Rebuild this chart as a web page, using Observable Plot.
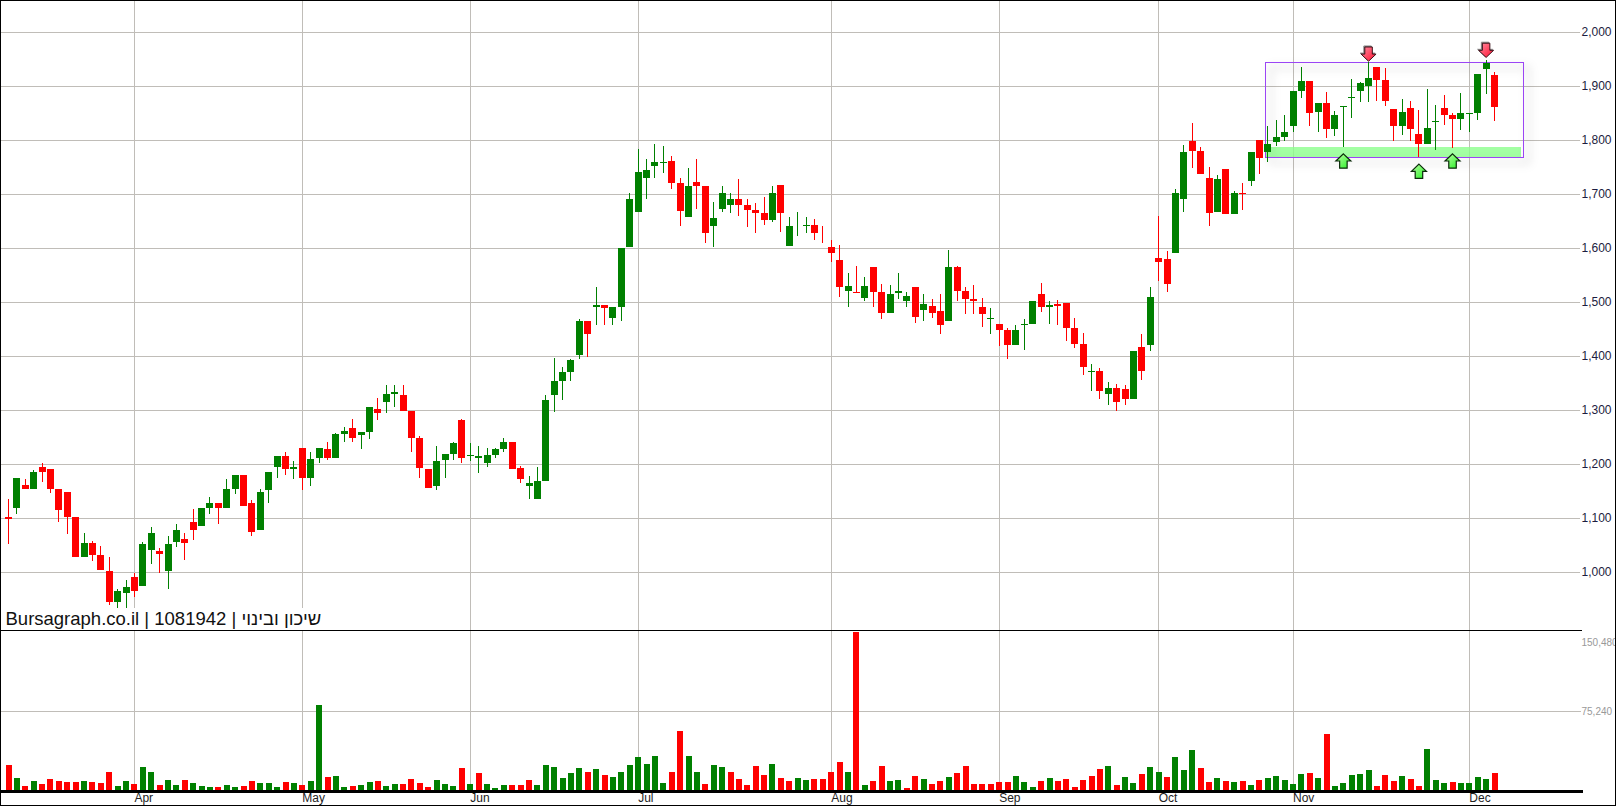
<!DOCTYPE html>
<html>
<head>
<meta charset="utf-8">
<script src="https://cdn.jsdelivr.net/npm/d3@7"></script>
<script src="https://cdn.jsdelivr.net/npm/@observablehq/plot@0.6"></script>
<style>
html,body{margin:0;padding:0;background:#fff}
#chart{position:relative;width:1616px;height:806px;overflow:hidden;font-family:"Liberation Sans",Arial,sans-serif}
#chart svg{position:absolute;left:0;display:block;background:transparent}
#border{position:absolute;left:0;top:0;width:1616px;height:806px;box-sizing:border-box;border:1px solid #000;pointer-events:none}
#title{position:absolute;left:1px;top:608px;width:325px;height:22px;background:#fff;color:#111;font-size:18.5px;line-height:22px;padding-left:4.5px;box-sizing:border-box;white-space:nowrap}
</style>
</head>
<body>
<div id="chart"><div id="title">Bursagraph.co.il | 1081942 | שיכון ובינוי</div><div id="border"></div></div>
<script>
const opens=[1101,1119,1162,1154,1195,1190,1154,1149,1102,1027,1054,1032,1001,945,962,990,975,1041,1038,1002,1056,1062,1093,1086,1119,1127,1119,1154,1180,1127,1078,1152,1195,1214,1191,1230,1175,1212,1228,1212,1256,1267,1254,1260,1301,1315,1330,1327,1299,1249,1190,1160,1208,1219,1282,1214,1212,1202,1217,1228,1241,1193,1160,1136,1169,1328,1354,1371,1401,1465,1491,1495,1471,1491,1601,1667,1730,1751,1758,1762,1721,1658,1723,1715,1641,1673,1680,1691,1680,1671,1664,1652,1717,1604,1640,1641,1643,1628,1602,1577,1521,1519,1508,1565,1519,1480,1517,1502,1527,1486,1493,1484,1465,1565,1521,1506,1491,1469,1460,1449,1421,1458,1460,1514,1491,1497,1499,1452,1423,1371,1373,1330,1340,1338,1321,1417,1421,1582,1580,1590,1691,1798,1780,1730,1667,1746,1663,1702,1724,1800,1778,1796,1806,1826,1891,1909,1852,1869,1820,1861,1878,1891,1900,1935,1911,1857,1826,1859,1811,1793,1833,1859,1846,1839,1848,1850,1931,1920];
const highs=[1136,1175,1173,1188,1202,1190,1154,1149,1102,1073,1058,1049,1028,969,986,999,1056,1084,1045,1067,1088,1073,1117,1119,1138,1127,1173,1180,1180,1134,1154,1186,1215,1223,1206,1230,1223,1230,1241,1258,1269,1284,1260,1306,1323,1347,1347,1347,1299,1252,1190,1234,1219,1241,1284,1238,1234,1230,1230,1249,1241,1197,1178,1195,1328,1397,1380,1395,1469,1465,1527,1495,1491,1600,1702,1784,1765,1793,1788,1771,1730,1749,1765,1715,1686,1715,1702,1728,1690,1684,1695,1714,1717,1658,1667,1658,1654,1640,1614,1606,1554,1567,1547,1565,1534,1532,1554,1519,1527,1514,1506,1515,1597,1567,1528,1532,1508,1488,1460,1451,1458,1469,1501,1536,1501,1504,1499,1471,1443,1386,1378,1351,1349,1347,1410,1440,1527,1660,1595,1710,1790,1831,1787,1750,1735,1746,1706,1720,1778,1800,1826,1837,1846,1891,1935,1909,1869,1889,1854,1863,1913,1907,1944,1935,1933,1857,1876,1872,1856,1894,1865,1883,1850,1887,1850,1922,1948,1926];
const lows=[1051,1108,1154,1154,1167,1147,1093,1071,1027,1027,1021,1004,938,930,930,954,975,1015,999,969,1047,1023,1060,1086,1108,1088,1119,1145,1123,1067,1078,1128,1175,1180,1173,1152,1160,1202,1208,1212,1241,1241,1227,1247,1282,1295,1306,1299,1223,1175,1156,1152,1175,1208,1201,1206,1184,1195,1212,1223,1190,1165,1136,1136,1169,1297,1319,1354,1395,1399,1458,1458,1458,1465,1601,1667,1690,1730,1738,1710,1641,1658,1673,1610,1601,1667,1665,1660,1638,1628,1643,1649,1630,1604,1623,1628,1615,1610,1575,1510,1490,1517,1502,1490,1469,1480,1506,1490,1462,1465,1471,1441,1465,1501,1478,1478,1454,1440,1419,1395,1421,1412,1460,1482,1460,1458,1427,1414,1365,1336,1321,1310,1299,1310,1321,1356,1410,1538,1519,1590,1667,1748,1737,1641,1667,1663,1663,1670,1715,1737,1759,1789,1798,1815,1878,1826,1815,1804,1807,1787,1841,1870,1870,1872,1863,1798,1809,1798,1769,1793,1781,1828,1785,1819,1815,1837,1885,1835];
const closes=[1099,1175,1154,1186,1186,1154,1114,1102,1027,1054,1032,1004,945,964,973,965,1051,1073,1034,1052,1078,1054,1077,1119,1127,1119,1154,1180,1123,1075,1149,1186,1215,1191,1194,1175,1210,1230,1212,1256,1262,1249,1260,1306,1295,1330,1334,1299,1249,1193,1156,1206,1219,1238,1212,1217,1215,1217,1228,1241,1190,1173,1165,1169,1319,1354,1371,1393,1465,1441,1495,1488,1491,1600,1691,1741,1745,1760,1760,1721,1669,1715,1715,1627,1656,1701,1691,1680,1671,1664,1652,1701,1665,1640,1641,1643,1628,1627,1591,1528,1530,1517,1530,1519,1480,1514,1521,1512,1473,1497,1480,1458,1565,1521,1506,1502,1477,1471,1449,1421,1449,1460,1501,1491,1495,1493,1452,1423,1380,1373,1336,1340,1315,1321,1410,1373,1510,1575,1534,1701,1777,1780,1737,1665,1728,1663,1702,1700,1778,1767,1793,1806,1815,1891,1909,1850,1869,1820,1846,1863,1880,1906,1915,1911,1872,1826,1852,1820,1793,1822,1835,1846,1839,1850,1850,1922,1943,1861];
const volumes=[24100,11700,4100,8900,6000,10800,8900,7900,7900,8900,7900,7000,17500,4100,8900,6000,22200,17500,5100,9800,5100,9800,7000,4100,3200,3200,5100,3200,4100,8900,7000,7000,3200,7900,7000,5100,8900,81300,12700,13700,3200,4100,5100,7900,8900,4100,6000,6000,10800,7000,3200,9800,6000,4100,21300,6000,16500,6000,2200,5100,5100,5100,9800,5100,24100,22200,11700,16500,21300,17500,20300,14600,12700,17500,24100,31800,25100,32700,7000,17500,56500,32700,17500,6000,24100,22200,17500,10800,5100,23200,14600,25100,11700,8900,11700,9800,10800,10800,17500,27000,17500,150480,5100,8900,23200,8900,9800,2200,13700,10800,6000,8900,12700,16500,23200,6000,6000,6000,7900,7900,13700,7900,3200,8900,11700,8900,10800,3200,9800,13700,20300,23200,5100,12700,7000,15600,22200,17500,12700,31800,19400,38400,21300,7900,11700,8900,7900,8900,5100,9800,11700,13700,9800,6000,15600,16500,11700,53700,4100,7000,14600,15600,19400,4100,14600,8900,13700,10800,4100,39400,9800,7000,7900,7000,7000,12700,10800,16500];
const volumeSides="rgrgrrrrrg rrrggrggrg grgggrggrr gggrgrggrg grggrggrrr rgggrgrggg rrrggggggr grgggggggr rggrggrrrr rgrrggrrrr grgrrggrrg rrgrrrrrrr gggrgrrrrr rgrggrggrg ggrrgrgrgr gggggrgrgg gggrrrgrrg ggrggggr".replace(/ /g,"").split("");
const priceTicks=[1000,1100,1200,1300,1400,1500,1600,1700,1800,1900,2000];
const monthLabels=["Apr","May","Jun","Jul","Aug","Sep","Oct","Nov","Dec"];
const monthIndex=[15,35,55,75,98,118,137,153,174];
const volumeTop=150480, volumeMid=75240;
const zoneBox={x1:149.8,x2:180.5,y1:1768.5,y2:1943};
const zoneBand={x1:149.9,x2:180.2,y1:1769,y2:1787.5};
const downArrows=[{i:162,p:1960},{i:176,p:1967}];
const upArrows=[{i:159,p:1762},{i:168,p:1743},{i:172,p:1762}];

const idx=d3.range(opens.length);
const UP="#008000", DOWN="#ff0000", GRID="#c0bdb8";
const isUp=i=>closes[i]>=opens[i];
const candleColor=i=>isUp(i)?UP:DOWN;
const crisp={shapeRendering:"crispEdges"};
const xScale={domain:[0,177],range:[8,1494],axis:null};
const W=1616;
const comma=d3.format(",");

function arrow(up){
  return {draw(ctx,size){
    const r=Math.sqrt(size/Math.PI), s=up?1:-1, h=r*0.95, w=r*0.5;
    ctx.moveTo(0,-s*h);
    ctx.lineTo(r,0);
    ctx.lineTo(w,0);
    ctx.lineTo(w,s*h);
    ctx.lineTo(-w,s*h);
    ctx.lineTo(-w,0);
    ctx.lineTo(-r,0);
    ctx.closePath();
  }};
}
function gradients(){
  const g=d3.create("svg:defs");
  [["arrowRed","#ff8ca0","#ff1030"],["arrowGreen","#c0ffa8","#22f022"]].forEach(([id,a,b])=>{
    const lg=g.append("linearGradient").attr("id",id).attr("x1",0).attr("y1",0).attr("x2",1).attr("y2",1);
    lg.append("stop").attr("offset","0%").attr("stop-color",a);
    lg.append("stop").attr("offset","100%").attr("stop-color",b);
  });
  return g.node();
}

const price=Plot.plot({
  width:W,height:630,
  marginLeft:0,marginRight:36,marginTop:0,marginBottom:0,
  x:xScale,
  y:{domain:[1000,2000],range:[572,32],axis:null},
  style:{fontFamily:"Liberation Sans, Arial, sans-serif",top:"0px"},
  marks:[
    gradients,
    Plot.ruleY(priceTicks,{stroke:GRID,strokeWidth:1,...crisp}),
    Plot.ruleX(monthIndex,{stroke:GRID,strokeWidth:1,...crisp}),
    Plot.rect([zoneBand],{x1:"x1",x2:"x2",y1:"y1",y2:"y2",fill:"#8cff8c",fillOpacity:0.8,...crisp}),
    Plot.rect([zoneBox],{x1:"x1",x2:"x2",y1:"y1",y2:"y2",fill:"none",stroke:"#9b45f5",strokeWidth:1,imageFilter:"drop-shadow(5px 5px 5px rgba(0,0,0,0.35))",...crisp}),
    Plot.ruleX(idx,{x:i=>i,y1:i=>lows[i],y2:i=>highs[i],stroke:candleColor,strokeWidth:1,...crisp}),
    Plot.ruleX(idx,{x:i=>i,y1:i=>opens[i],y2:i=>closes[i],stroke:candleColor,strokeWidth:7,...crisp}),
    Plot.dot(downArrows,{x:"i",y:"p",r:7.5,symbol:arrow(false),fill:"url(#arrowRed)",stroke:"#3a1018",strokeWidth:1,imageFilter:"drop-shadow(-1px -1px 0 #888)"}),
    Plot.dot(upArrows,{x:"i",y:"p",r:7.5,symbol:arrow(true),fill:"url(#arrowGreen)",stroke:"#0a2a0a",strokeWidth:1.2}),
    Plot.axisY({anchor:"right",ticks:priceTicks,tickFormat:d=>comma(d),tickSize:0,tickPadding:1,fontSize:12,color:"#1c1c40"})
  ]
});
const volume=Plot.plot({
  width:W,height:176,
  marginLeft:0,marginRight:35,marginTop:0,marginBottom:15,
  x:xScale,
  y:{domain:[0,volumeTop],range:[160.5,2],axis:null},
  style:{fontFamily:"Liberation Sans, Arial, sans-serif",top:"630px"},
  marks:[
    Plot.ruleY([volumeMid],{stroke:GRID,strokeWidth:1,...crisp}),
    Plot.ruleX(monthIndex,{stroke:GRID,strokeWidth:1,...crisp}),
    Plot.ruleX(idx,{x:i=>i,y1:0,y2:i=>volumes[i],stroke:i=>volumeSides[i]==="g"?UP:DOWN,strokeWidth:6,...crisp}),
    Plot.frame({anchor:"top",stroke:"#000",strokeWidth:1,...crisp}),
    Plot.frame({anchor:"bottom",stroke:"#000",strokeWidth:2.5,...crisp}),
    Plot.axisY({anchor:"right",ticks:[volumeMid],tickFormat:d=>comma(d),tickSize:0,tickPadding:0,fontSize:10,color:"#999"}),
    Plot.axisY({anchor:"right",ticks:[volumeTop],tickFormat:d=>comma(d),tickSize:0,tickPadding:0,dy:10.5,fontSize:10,color:"#999"}),
    Plot.axisX({anchor:"bottom",ticks:monthIndex,tickFormat:i=>monthLabels[monthIndex.indexOf(i)],tickSize:0,tickPadding:2,textAnchor:"start",fontSize:12,color:"#222"})
  ]
});
const host=document.getElementById("chart");
host.insertBefore(volume,host.firstChild);
host.insertBefore(price,host.firstChild);
</script>
</body>
</html>
